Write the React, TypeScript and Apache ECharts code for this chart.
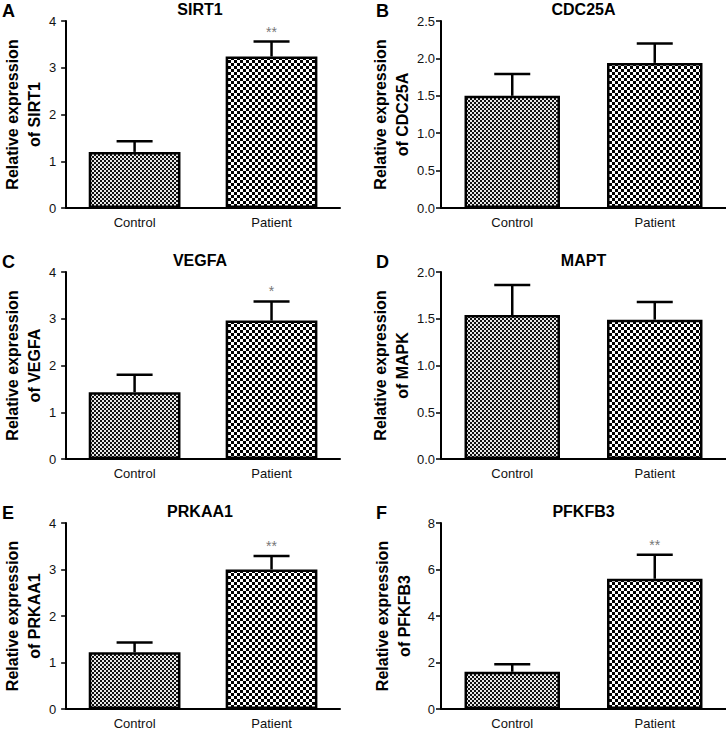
import React, { useEffect, useRef } from "react";
import * as echarts from "echarts";

const categories = ["Control", "Patient"];
const genes = ["SIRT1", "CDC25A", "VEGFA", "MAPT", "PRKAA1", "PFKFB3"];
const yNameGenes = ["SIRT1", "CDC25A", "VEGFA", "MAPK", "PRKAA1", "PFKFB3"];
const panelLetters = ["A", "B", "C", "D", "E", "F"];
const controlMean = [1.2, 1.5, 1.43, 1.54, 1.22, 1.6];
const controlUpper = [1.43, 1.79, 1.8, 1.86, 1.43, 1.93];
const patientMean = [3.24, 1.94, 2.96, 1.49, 3.0, 5.6];
const patientUpper = [3.56, 2.2, 3.37, 1.68, 3.29, 6.63];
const yMax = [4, 2.5, 4, 2, 4, 8];
const yInterval = [1, 0.5, 1, 0.5, 1, 2];
const yDecimals = [0, 1, 0, 1, 0, 0];
const sigLabels = ["**", "", "*", "", "**", "**"];

function makeChecker(cell: number, dark: string, light: string) {
  const c = document.createElement("canvas");
  c.width = cell * 2;
  c.height = cell * 2;
  const ctx = c.getContext("2d")!;
  ctx.fillStyle = light;
  ctx.fillRect(0, 0, cell * 2, cell * 2);
  ctx.fillStyle = dark;
  ctx.fillRect(0, 0, cell, cell);
  ctx.fillRect(cell, cell, cell, cell);
  return c;
}

export default function App() {
  const ref = useRef<HTMLDivElement>(null);
  useEffect(() => {
    document.body.style.margin = "0";
    const chart = echarts.init(ref.current!, undefined, { renderer: "svg" });
    const ctrlCanvas = makeChecker(2, "#111", "#e8e8e8");
    const patCanvas = makeChecker(3, "#000", "#fff");
    const ctrlPattern: any = { image: ctrlCanvas, repeat: "repeat", imageWidth: 4, imageHeight: 4 };
    const patPattern: any = { image: patCanvas, repeat: "repeat", imageWidth: 6, imageHeight: 6 };

    const rowTops = [21, 272, 523];
    const plotH = 187;
    const colLeft = [60, 441];
    const colWidth = [280, 285];
    const font = "Liberation Sans, Arial, sans-serif";

    const grids: any[] = [];
    const xAxes: any[] = [];
    const yAxes: any[] = [];
    const series: any[] = [];
    const titles: any[] = [];
    const graphics: any[] = [];

    genes.forEach((g, i) => {
      const col = i % 2;
      const row = Math.floor(i / 2);
      const top = rowTops[row];
      grids.push({ left: colLeft[col], top, width: colWidth[col], height: plotH });
      xAxes.push({
        type: "category",
        gridIndex: i,
        data: categories,
        axisLine: { lineStyle: { color: "#000", width: 2 } },
        axisTick: { alignWithLabel: true, length: 5, lineStyle: { color: "#000", width: 1.5 } },
        axisLabel: { color: "#111", fontSize: 13, fontFamily: font, margin: 8 },
      });
      yAxes.push({
        type: "value",
        gridIndex: i,
        min: 0,
        max: yMax[i],
        interval: yInterval[i],
        name: "Relative expression\nof " + yNameGenes[i],
        nameLocation: "middle",
        nameRotate: 90,
        nameGap: col === 0 ? 21 : 26,
        nameTextStyle: { color: "#000", fontSize: 16, fontWeight: "bold", fontFamily: font, lineHeight: 22 },
        axisLine: { show: true, lineStyle: { color: "#000", width: 2 } },
        axisTick: { show: true, length: 5, lineStyle: { color: "#000", width: 1.5 } },
        axisLabel: {
          color: "#111",
          fontSize: 13,
          fontFamily: font,
          margin: col === 0 ? 10 : 6,
          formatter: (v: number) => v.toFixed(yDecimals[i]),
        },
        splitLine: { show: false },
      });
      series.push({
        type: "bar",
        xAxisIndex: i,
        yAxisIndex: i,
        barWidth: "67%",
        z: 2,
        data: [
          { value: controlMean[i], itemStyle: { color: ctrlPattern } },
          { value: patientMean[i], itemStyle: { color: patPattern } },
        ],
        itemStyle: { borderColor: "#000", borderWidth: 2.5 },
      });
      series.push({
        type: "custom",
        xAxisIndex: i,
        yAxisIndex: i,
        z: 3,
        data: [
          [0, controlMean[i], controlUpper[i]],
          [1, patientMean[i], patientUpper[i]],
        ],
        encode: { x: 0, y: [1, 2] },
        renderItem: (params: any, api: any) => {
          const base = api.coord([api.value(0), api.value(1)]);
          const topPt = api.coord([api.value(0), api.value(2)]);
          const half = 18;
          const children: any[] = [
            {
              type: "line",
              shape: { x1: base[0], y1: base[1], x2: topPt[0], y2: topPt[1] },
              style: { stroke: "#000", lineWidth: 2.5 },
            },
            {
              type: "line",
              shape: { x1: topPt[0] - half, y1: topPt[1], x2: topPt[0] + half, y2: topPt[1] },
              style: { stroke: "#000", lineWidth: 2.5 },
            },
          ];
          const sig = params.dataIndex === 1 ? sigLabels[i] : "";
          if (sig) {
            children.push({
              type: "text",
              style: {
                text: sig,
                x: topPt[0],
                y: topPt[1] - 3,
                textAlign: "center",
                textVerticalAlign: "bottom",
                fill: "#777",
                font: "14px " + font,
              },
            });
          }
          return { type: "group", children };
        },
      });
      titles.push({
        text: g,
        left: colLeft[col] + colWidth[col] / 2,
        top: top - 20,
        textAlign: "center",
        textStyle: { fontSize: 16, fontWeight: "bold", color: "#000", fontFamily: font },
        padding: 0,
      });
      graphics.push({
        type: "text",
        left: col === 0 ? 2 : 376,
        top: top - 19,
        style: { text: panelLetters[i], font: "bold 18px " + font, fill: "#000" },
      });
    });

    chart.setOption({
      animation: false,
      backgroundColor: "#fff",
      title: titles,
      grid: grids,
      xAxis: xAxes,
      yAxis: yAxes,
      series,
      graphic: graphics,
    });
    return () => chart.dispose();
  }, []);
  return <div ref={ref} style={{ width: 726, height: 730 }} />;
}
